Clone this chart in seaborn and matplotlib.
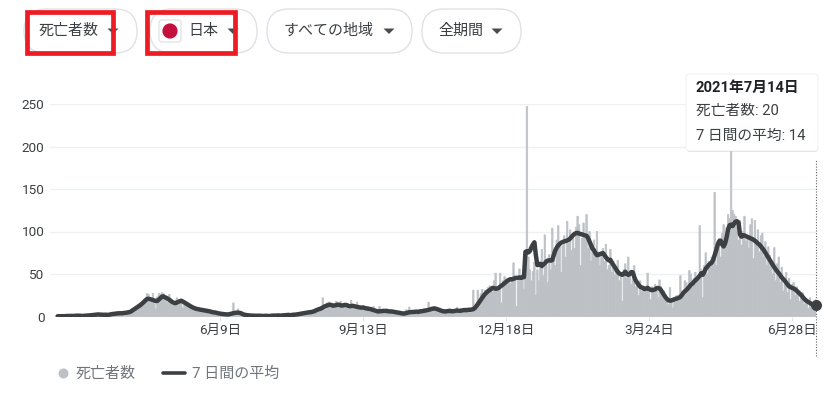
import numpy as np
import pandas as pd
import matplotlib
matplotlib.use("Agg")
import matplotlib.pyplot as plt
from matplotlib.patches import FancyBboxPatch, Rectangle, Circle, Polygon
import seaborn as sns

# daily deaths, 2020-02-21 .. 2021-07-14
deaths = [
    0, 1, 0, 0, 1, 0, 1, 0, 1, 1,
    0, 1, 1, 1, 1, 1, 0, 1, 2, 1,
    1, 2, 1, 3, 2, 2, 3, 3, 1, 2,
    2, 3, 1, 2, 2, 3, 4, 3, 4, 4,
    3, 5, 4, 3, 5, 5, 4, 7, 6, 6,
    9, 9, 11, 12, 14, 15, 16, 17, 19, 20,
    27, 26, 16, 20, 27, 15, 9, 23, 27, 26,
    28, 27, 21, 20, 16, 26, 16, 13, 14, 15,
    22, 19, 18, 21, 10, 14, 15, 13, 12, 13,
    10, 9, 11, 9, 8, 7, 9, 6, 8, 7,
    8, 6, 5, 7, 5, 4, 3, 5, 4, 3,
    2, 3, 3, 2, 3, 2, 4, 5, 16, 5,
    3, 9, 5, 3, 1, 2, 1, 2, 1, 1,
    1, 1, 0, 2, 1, 1, 0, 1, 1, 1,
    2, 0, 1, 1, 2, 1, 1, 2, 1, 1,
    2, 1, 2, 2, 1, 3, 1, 2, 4, 3,
    2, 4, 3, 4, 3, 5, 4, 5, 6, 4,
    7, 5, 8, 9, 7, 10, 11, 12, 22, 13,
    8, 16, 17, 12, 11, 15, 13, 18, 12, 11,
    18, 13, 15, 14, 11, 9, 13, 19, 10, 8,
    13, 17, 9, 10, 12, 8, 9, 10, 12, 7,
    9, 8, 12, 3, 8, 5, 12, 7, 6, 5,
    7, 9, 5, 6, 7, 4, 7, 5, 3, 4,
    5, 3, 2, 6, 8, 7, 11, 6, 5, 6,
    5, 7, 4, 8, 7, 5, 9, 8, 6, 17,
    11, 9, 8, 12, 7, 9, 6, 5, 7, 6,
    8, 5, 7, 9, 6, 4, 8, 7, 11, 5,
    8, 6, 9, 7, 10, 6, 9, 8, 10, 31,
    12, 14, 31, 21, 27, 32, 22, 31, 24, 34,
    36, 31, 29, 42, 51, 30, 34, 51, 16, 42,
    47, 39, 41, 45, 39, 44, 63, 48, 12, 42,
    56, 45, 49, 32, 58, 247, 70, 55, 42, 53,
    64, 25, 55, 42, 58, 79, 48, 96, 60, 40,
    73, 55, 104, 78, 60, 90, 107, 85, 52, 83,
    95, 70, 112, 86, 102, 78, 95, 80, 105, 118,
    108, 60, 92, 110, 96, 120, 80, 100, 65, 85,
    90, 70, 100, 76, 60, 72, 80, 65, 85, 55,
    60, 79, 52, 65, 48, 58, 66, 42, 50, 18,
    55, 62, 45, 70, 52, 38, 45, 60, 35, 40,
    25, 42, 30, 36, 28, 30, 51, 33, 20, 35,
    28, 38, 30, 22, 43, 35, 26, 30, 18, 22,
    14, 34, 20, 10, 22, 24, 25, 18, 48, 22,
    30, 42, 40, 28, 54, 50, 35, 45, 52, 46,
    48, 107, 55, 22, 60, 75, 50, 65, 58, 70,
    66, 146, 60, 88, 92, 70, 98, 108, 82, 105,
    120, 115, 216, 125, 120, 118, 105, 90, 113, 84,
    100, 118, 88, 95, 80, 108, 115, 68, 113, 90,
    102, 76, 95, 98, 70, 88, 60, 82, 72, 65,
    50, 81, 42, 62, 70, 40, 58, 30, 38, 52,
    28, 45, 20, 38, 40, 25, 35, 30, 18, 22,
    28, 14, 20, 16, 10, 22, 12, 8, 15, 20,
]

# 7 day average line
avg7 = [
    0.3, 0.3, 0.3, 0.4, 0.4, 0.4, 0.6, 0.6, 0.7, 0.7,
    0.6, 0.7, 0.9, 1.0, 1.0, 0.9, 0.7, 0.7, 0.9, 1.0,
    1.1, 1.3, 1.4, 1.6, 1.9, 2.1, 2.3, 2.4, 2.3, 2.1,
    2.0, 2.0, 2.1, 2.0, 1.9, 2.3, 2.6, 3.0, 3.1, 3.4,
    3.7, 3.7, 3.9, 3.7, 4.0, 4.3, 4.4, 4.7, 5.1, 5.7,
    6.9, 8.1, 9.3, 10.4, 11.6, 12.7, 14.1, 15.7, 17.3, 19.1,
    20.6, 20.9, 20.4, 19.9, 19.4, 18.7, 18.1, 18.4, 20.0, 21.6,
    23.3, 23.7, 22.6, 21.9, 20.9, 19.7, 18.4, 17.0, 16.1, 15.7,
    16.4, 17.3, 18.0, 18.4, 17.7, 16.6, 15.4, 14.3, 13.3, 12.3,
    11.3, 10.4, 9.7, 9.1, 8.7, 8.3, 8.0, 7.7, 7.4, 7.1,
    6.9, 6.6, 6.1, 5.6, 5.1, 4.9, 4.6, 4.1, 3.7, 3.4,
    3.0, 2.9, 2.7, 2.6, 2.4, 2.6, 3.0, 3.4, 3.9, 4.3,
    4.4, 4.6, 4.4, 3.9, 3.0, 2.3, 1.9, 1.6, 1.4, 1.1,
    1.1, 1.0, 1.0, 0.9, 0.9, 1.0, 0.9, 0.7, 0.6, 0.7,
    0.9, 0.6, 0.6, 0.7, 1.0, 1.1, 1.0, 1.1, 1.3, 1.1,
    1.1, 1.3, 1.4, 1.6, 1.7, 1.9, 1.6, 1.7, 2.0, 2.1,
    2.3, 2.6, 3.0, 3.1, 3.4, 3.7, 4.1, 4.4, 4.6, 5.0,
    5.1, 5.6, 6.0, 6.9, 7.7, 8.4, 8.9, 9.6, 10.6, 11.7,
    12.4, 13.1, 13.6, 13.9, 13.3, 12.7, 13.0, 13.4, 14.1, 13.7,
    13.1, 12.9, 13.3, 13.7, 13.4, 12.6, 12.1, 12.3, 12.6, 12.1,
    11.7, 11.4, 10.9, 10.6, 10.4, 10.7, 10.1, 9.6, 9.3, 8.9,
    8.7, 8.1, 7.4, 6.9, 6.4, 6.0, 6.1, 6.3, 6.4, 6.7,
    6.6, 6.4, 6.1, 5.9, 6.0, 5.7, 5.4, 5.0, 4.7, 4.4,
    4.1, 3.7, 3.4, 3.6, 4.1, 4.6, 5.0, 5.1, 5.3, 5.4,
    5.6, 5.7, 5.4, 5.9, 6.1, 6.4, 6.7, 7.1, 7.4, 7.9,
    8.4, 8.9, 9.3, 9.4, 9.1, 8.4, 7.9, 7.1, 6.6, 6.1,
    5.9, 6.1, 6.3, 6.6, 6.4, 6.1, 6.4, 6.7, 7.0, 6.9,
    6.7, 7.0, 7.3, 7.6, 7.4, 7.6, 8.0, 7.9, 8.3, 8.6,
    9.9, 12.1, 14.4, 17.0, 19.7, 22.3, 24.6, 26.6, 28.4, 30.0,
    31.1, 32.4, 33.7, 33.4, 32.6, 32.9, 33.6, 35.1, 36.4, 37.7,
    39.3, 40.7, 42.3, 43.1, 44.0, 43.7, 44.4, 45.1, 45.3, 45.6,
    45.9, 45.4, 46.0, 46.3, 76.1, 76.9, 75.4, 77.1, 81.3, 84.7,
    87.3, 72.0, 60.4, 61.1, 62.0, 59.3, 61.3, 62.4, 64.7, 65.9,
    66.1, 65.7, 66.4, 72.3, 77.6, 81.1, 83.6, 85.4, 86.9, 87.7,
    88.4, 88.9, 89.4, 90.3, 91.7, 93.9, 95.7, 97.3, 98.1, 98.4,
    97.6, 96.9, 96.7, 95.9, 95.4, 94.9, 92.4, 88.3, 84.1, 79.9,
    78.0, 74.4, 72.1, 72.6, 73.4, 74.0, 74.7, 72.4, 69.7, 67.6,
    65.9, 66.7, 63.4, 60.7, 58.0, 55.1, 52.4, 50.6, 49.7, 49.0,
    50.4, 52.7, 50.0, 48.9, 50.1, 52.3, 52.0, 46.7, 42.3, 39.6,
    37.1, 35.0, 34.1, 33.4, 32.1, 32.9, 33.7, 32.3, 31.4, 31.0,
    31.3, 32.0, 33.3, 33.6, 33.0, 30.9, 28.0, 25.3, 22.7, 20.4,
    19.0, 18.6, 18.9, 19.6, 20.3, 20.9, 21.3, 22.0, 23.1, 25.3,
    27.9, 29.7, 31.1, 33.0, 35.1, 37.3, 38.6, 40.7, 42.4, 44.1,
    46.0, 47.9, 50.9, 49.1, 52.3, 56.4, 58.3, 60.6, 62.1, 63.4,
    66.7, 72.1, 77.9, 84.3, 88.6, 89.3, 84.7, 82.4, 86.0, 93.1,
    102.4, 107.3, 108.1, 106.4, 109.3, 111.6, 112.1, 110.4, 96.3, 93.9,
    95.7, 95.4, 94.6, 93.7, 92.9, 92.0, 91.3, 90.4, 89.1, 87.6,
    85.9, 84.7, 82.4, 80.3, 78.0, 75.1, 72.1, 69.3, 66.4, 63.4,
    60.7, 57.9, 55.3, 53.1, 50.9, 48.6, 46.0, 44.1, 42.1, 39.7,
    37.4, 35.3, 34.4, 33.6, 32.9, 31.9, 30.4, 28.7, 27.0, 25.3,
    23.1, 21.0, 19.3, 18.0, 16.9, 15.7, 14.7, 14.3, 14.1, 14.0,
]

tick_dates = ["2020-06-09", "2020-09-13", "2020-12-18", "2021-03-24", "2021-06-28"]
tick_labels = ["6月9日", "9月13日", "12月18日", "3月24日", "6月28日"]
y_ticks = [0, 50, 100, 150, 200, 250]

dates = pd.date_range("2020-02-21", periods=len(deaths))
df = pd.DataFrame({"day": np.arange(len(deaths)), "deaths": deaths, "avg7": avg7})
tick_pos = [dates.get_loc(pd.Timestamp(d)) for d in tick_dates]

sns.set_theme(style="white")
plt.rcParams["font.family"] = ["Roboto", "Noto Sans CJK JP", "DejaVu Sans"]

W, H = 836, 401
BAR = "#bdc1c6"
LINE = "#3c4043"
TXT = "#3c4043"

fig = plt.figure(figsize=(W / 100, H / 100), dpi=100)
# plot area in pixels: x 50..816, y 104..316.5
ax = fig.add_axes([50 / W, 1 - 316.5 / H, (816 - 50) / W, (316.5 - 104) / H])

sns.barplot(data=df, x="day", y="deaths", native_scale=True, color=BAR, saturation=1,
            width=1.0, errorbar=None, ax=ax, zorder=2)
for bar in ax.patches:
    # no pixel snapping, otherwise most of the thin bars vanish
    bar.set_snap(False)
    bar.set_edgecolor(BAR)
    bar.set_linewidth(0.5)
sns.lineplot(data=df, x="day", y="avg7", color=LINE, lw=3.2, ax=ax, zorder=3,
             solid_joinstyle="round", errorbar=None)

ax.set_xlim(-5.1, 509)
ax.set_ylim(0, 250)
ax.set_xlabel("")
ax.set_ylabel("")
ax.set_yticks(y_ticks)
ax.set_xticks(tick_pos)
ax.set_xticklabels(tick_labels)
ax.tick_params(axis="y", length=0, pad=4, labelsize=9.7, labelcolor=TXT)
ax.tick_params(axis="x", length=3, width=0.8, color="#e3e5e8", pad=2.5, labelsize=9.7,
               labelcolor=TXT, bottom=True)
ax.grid(axis="y", color="#eff0f2", lw=1, zorder=0)
ax.set_axisbelow(True)
sns.despine(ax=ax, left=True, bottom=True)

# current-day hairline and marker
ax.vlines(df["day"].iloc[-1], -47, 184, color="#5f6368", lw=0.8, linestyles=(0, (1, 1.5)),
          clip_on=False, zorder=4)
ax.scatter(df["day"].iloc[-1], avg7[-1], s=48, color=LINE, clip_on=False, zorder=5)

# overlay in pixel coordinates for the dropdowns, tooltip and legend
ui = fig.add_axes([0, 0, 1, 1])
ui.set_xlim(0, W)
ui.set_ylim(H, 0)
ui.axis("off")
ui.patch.set_alpha(0)


def pill(x0, x1):
    ui.add_patch(FancyBboxPatch((x0, 9), x1 - x0, 44, boxstyle="round,pad=0,rounding_size=22",
                                fc="white", ec="#dfe1e5", lw=1))


def caret(x):
    ui.add_patch(Polygon([(x - 5.5, 28.5), (x + 5.5, 28.5), (x, 34)], fc="#4a4d50", ec="none"))


for x0, x1 in [(24, 137), (150, 257), (267, 412), (422, 521)]:
    pill(x0, x1)
for x in [113, 233, 389, 497]:
    caret(x)

btn = dict(fontsize=10.8, color=TXT, va="center", ha="left")
ui.text(38.5, 30.5, "死亡者数", **btn)
ui.text(188.5, 30.5, "日本", **btn)
ui.text(284, 30.5, "すべての地域", **btn)
ui.text(438, 30.5, "全期間", **btn)

# flag
flag = FancyBboxPatch((159, 20), 22, 22, boxstyle="round,pad=0,rounding_size=3", fc="white", ec="#e4e4e4", lw=1)
ui.add_patch(flag)
ui.add_patch(Circle((170, 31), 7.6, fc="#c4103f", ec="none"))

# red highlight boxes
ui.add_patch(Rectangle((26.5, 11.5), 86, 41, fill=False, ec="#ed1c24", lw=3.4, joinstyle="miter"))
ui.add_patch(Rectangle((147, 12), 88, 41, fill=False, ec="#ed1c24", lw=3.4, joinstyle="miter"))

# tooltip
ui.add_patch(FancyBboxPatch((687, 76), 131, 76, boxstyle="round,pad=0,rounding_size=3", fc="#000000",
                            ec="none", alpha=0.12, zorder=6))
ui.add_patch(FancyBboxPatch((686, 74), 132, 77, boxstyle="round,pad=0,rounding_size=3", fc="white",
                            ec="#eeeeee", lw=0.6, zorder=7))
ui.text(696, 88, "2021年7月14日", fontsize=10.6, fontweight="bold", color="#202124", va="center", zorder=8)
ui.text(696, 111, "死亡者数: 20", fontsize=10.6, color=TXT, va="center", zorder=8)
ui.text(696, 136, "7 日間の平均: 14", fontsize=10.6, color=TXT, va="center", zorder=8)

# legend
ui.add_patch(Circle((63.5, 373.5), 5, fc=BAR, ec="none"))
ui.text(76, 373.5, "死亡者数", fontsize=10.8, color="#70757a", va="center")
ui.plot([163, 185], [372.5, 372.5], color=LINE, lw=2.6, solid_capstyle="round")
ui.text(192, 373.5, "7 日間の平均", fontsize=10.8, color="#70757a", va="center")

fig.savefig("out.png", dpi=100)
